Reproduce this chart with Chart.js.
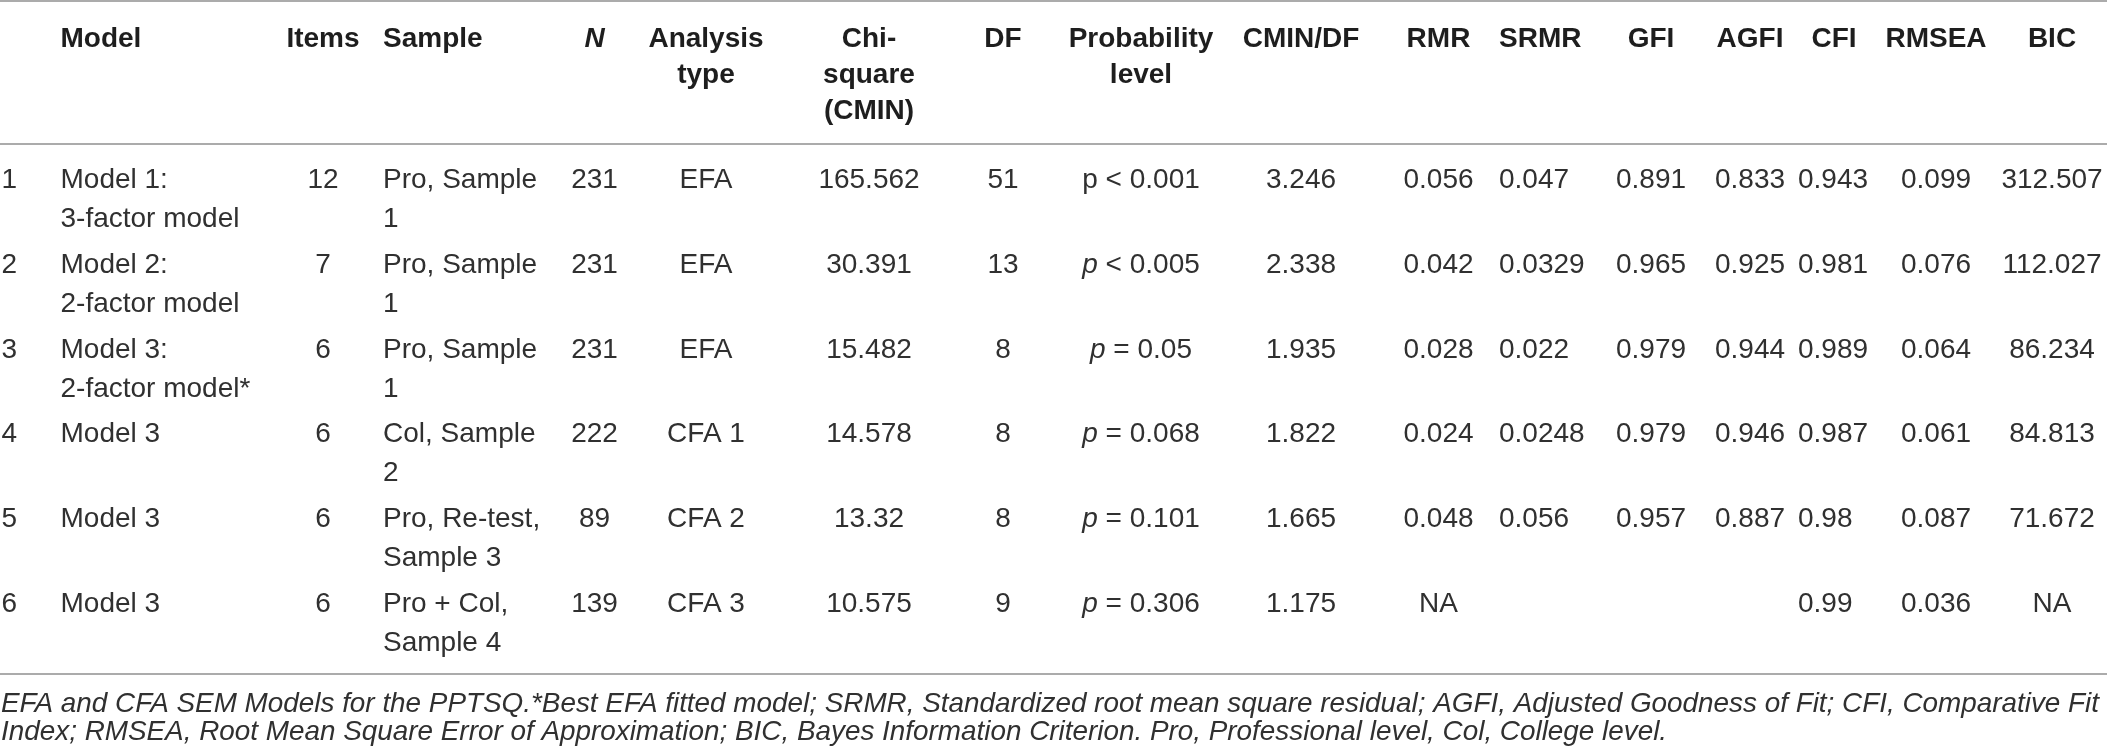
<!DOCTYPE html>
<html>
<head>
<meta charset="utf-8">
<script src="https://cdn.jsdelivr.net/npm/chart.js@4.4.1/dist/chart.umd.min.js"></script>
<style>
  html, body { margin: 0; padding: 0; background: #ffffff; }
  #wrap { width: 2107px; height: 755px; }
  canvas { display: block; }
</style>
</head>
<body>
<div id="wrap"><canvas id="tbl" width="2107" height="755"></canvas></div>
<script>
// ---------------- DATA ----------------
const headerLabels = [
  [''], ['Model'], ['Items'], ['Sample'], ['N'], ['Analysis', 'type'],
  ['Chi-', 'square', '(CMIN)'], ['DF'], ['Probability', 'level'], ['CMIN/DF'],
  ['RMR'], ['SRMR'], ['GFI'], ['AGFI'], ['CFI'], ['RMSEA'], ['BIC']
];
const headerItalic = [false, false, false, false, true, false, false, false, false, false, false, false, false, false, false, false, false];

const rowNumbers = ['1', '2', '3', '4', '5', '6'];
const models = [
  ['Model 1:', '3-factor model'],
  ['Model 2:', '2-factor model'],
  ['Model 3:', '2-factor model*'],
  ['Model 3'], ['Model 3'], ['Model 3']
];
const items = [12, 7, 6, 6, 6, 6];
const samples = [
  ['Pro, Sample', '1'],
  ['Pro, Sample', '1'],
  ['Pro, Sample', '1'],
  ['Col, Sample', '2'],
  ['Pro, Re-test,', 'Sample 3'],
  ['Pro + Col,', 'Sample 4']
];
const nValues = [231, 231, 231, 222, 89, 139];
const analysisTypes = ['EFA', 'EFA', 'EFA', 'CFA 1', 'CFA 2', 'CFA 3'];
const chiSquare = [165.562, 30.391, 15.482, 14.578, 13.32, 10.575];
const dfValues = [51, 13, 8, 8, 8, 9];
const probOperator = ['<', '<', '=', '=', '=', '='];
const probValue = [0.001, 0.005, 0.05, 0.068, 0.101, 0.306];
const probItalicP = [false, true, true, true, true, true];
const cminDf = [3.246, 2.338, 1.935, 1.822, 1.665, 1.175];
const rmr = [0.056, 0.042, 0.028, 0.024, 0.048, 'NA'];
const srmr = [0.047, 0.0329, 0.022, 0.0248, 0.056, null];
const gfi = [0.891, 0.965, 0.979, 0.979, 0.957, null];
const agfi = [0.833, 0.925, 0.944, 0.946, 0.887, null];
const cfi = [0.943, 0.981, 0.989, 0.987, 0.98, 0.99];
const rmsea = [0.099, 0.076, 0.064, 0.061, 0.087, 0.036];
const bic = [312.507, 112.027, 86.234, 84.813, 71.672, 'NA'];

const footnoteLines = [
  'EFA and CFA SEM Models for the PPTSQ.*Best EFA fitted model; SRMR, Standardized root mean square residual; AGFI, Adjusted Goodness of Fit; CFI, Comparative Fit',
  'Index; RMSEA, Root Mean Square Error of Approximation; BIC, Bayes Information Criterion. Pro, Professional level, Col, College level.'
];

// ---------------- LAYOUT / STYLE (not data) ----------------
const W = 2107, H = 755;
const FAMILY = '"Liberation Sans", Arial, Helvetica, sans-serif';
const layout = {
  topRule: 1, headerRule: 144, bottomRule: 674,
  headerBaseline: 47, headerStep: 36,
  firstRowBaseline: 188, rowStep: 84.8, lineStep: 39,
  footBaseline: 712, footStep: 28, footRight: 2100, footLeft: 1
};
const colLayout = [
  { x: 1.5,    align: 'left' },
  { x: 60.5,   align: 'left' },
  { x: 323,    align: 'center' },
  { x: 383,    align: 'left' },
  { x: 594.5,  align: 'center' },
  { x: 706,    align: 'center' },
  { x: 869,    align: 'center' },
  { x: 1003,   align: 'center' },
  { x: 1141,   align: 'center' },
  { x: 1301,   align: 'center' },
  { x: 1438.5, align: 'center' },
  { x: 1499,   align: 'left' },
  { x: 1651,   align: 'center' },
  { x: 1750,   align: 'center' },
  { x: 1798,   align: 'left', hx: 1834, halign: 'center' },
  { x: 1936,   align: 'center' },
  { x: 2052,   align: 'center' }
];
const style = {
  headerFont: 'bold 28px ' + FAMILY,
  headerItalicFont: 'italic bold 28px ' + FAMILY,
  bodyFont: '28px ' + FAMILY,
  bodyItalicFont: 'italic 28px ' + FAMILY,
  footSize: 26,
  headerColor: '#1e1e1e',
  bodyColor: '#303030',
  footColor: '#303030',
  ruleColor: '#ababab',
  ruleWidth: 2
};

// probability column as rich segments built from the data arrays
const probability = probValue.map((v, r) => [
  { t: 'p', italic: probItalicP[r] },
  { t: ' ' + probOperator[r] + ' ' + String(v), italic: false }
]);

const columnData = [rowNumbers, models, items, samples, nValues, analysisTypes, chiSquare,
  dfValues, probability, cminDf, rmr, srmr, gfi, agfi, cfi, rmsea, bic];

// one invisible scatter dataset per column; one point per table row
const datasets = columnData.map((col, c) => ({
  label: headerLabels[c].join(' '),
  data: col.map((v, r) => ({
    x: colLayout[c].x,
    y: layout.firstRowBaseline + r * layout.rowStep,
    col: c, row: r
  })),
  pointRadius: 0, pointHoverRadius: 0, showLine: false
}));

function cellSegments(c, r) {
  const v = columnData[c][r];
  if (v === null || v === undefined || v === '') return [];
  if (c === 8) return [v];                       // one rich line
  if (Array.isArray(v)) return v.map(s => [{ t: s, italic: false }]);
  return [[{ t: String(v), italic: false }]];
}

function drawRich(ctx, segs, x, y, align, normalFont, italicFont) {
  let total = 0;
  const widths = segs.map(s => {
    ctx.font = s.italic ? italicFont : normalFont;
    const w = ctx.measureText(s.t).width;
    total += w;
    return w;
  });
  let sx = align === 'center' ? x - total / 2 : (align === 'right' ? x - total : x);
  ctx.textAlign = 'left';
  segs.forEach((s, i) => {
    ctx.font = s.italic ? italicFont : normalFont;
    ctx.fillText(s.t, sx, y);
    sx += widths[i];
  });
}

const tablePlugin = {
  id: 'tablePlugin',
  beforeDraw(chart) {
    const ctx = chart.ctx;
    ctx.save();
    ctx.fillStyle = '#ffffff';
    ctx.fillRect(0, 0, chart.width, chart.height);
    ctx.restore();
  },
  afterDatasetsDraw(chart) {
    const ctx = chart.ctx;
    const xs = chart.scales.x, ys = chart.scales.y;
    ctx.save();
    ctx.textBaseline = 'alphabetic';

    // horizontal rules
    ctx.strokeStyle = style.ruleColor;
    ctx.lineWidth = style.ruleWidth;
    [layout.topRule, layout.headerRule, layout.bottomRule].forEach(v => {
      const py = ys.getPixelForValue(v);
      ctx.beginPath();
      ctx.moveTo(xs.getPixelForValue(0), py);
      ctx.lineTo(xs.getPixelForValue(W), py);
      ctx.stroke();
    });

    // header
    ctx.fillStyle = style.headerColor;
    headerLabels.forEach((lines, c) => {
      const cl = colLayout[c];
      const hx = xs.getPixelForValue(cl.hx !== undefined ? cl.hx : cl.x);
      const al = cl.halign || cl.align;
      lines.forEach((txt, k) => {
        const py = ys.getPixelForValue(layout.headerBaseline + k * layout.headerStep);
        ctx.font = headerItalic[c] ? style.headerItalicFont : style.headerFont;
        ctx.textAlign = al;
        ctx.fillText(txt, hx, py);
      });
    });

    // body cells, positioned by the chart's point elements
    ctx.fillStyle = style.bodyColor;
    const linePx = ys.getPixelForValue(layout.lineStep) - ys.getPixelForValue(0);
    chart.data.datasets.forEach((ds, di) => {
      const meta = chart.getDatasetMeta(di);
      meta.data.forEach((el, i) => {
        const pt = ds.data[i];
        const lines = cellSegments(pt.col, pt.row);
        lines.forEach((segs, k) => {
          drawRich(ctx, segs, el.x, el.y + linePx * k,
            colLayout[pt.col].align, style.bodyFont, style.bodyItalicFont);
        });
      });
    });

    // footnote (italic), size fitted so the first line spans the table width
    ctx.fillStyle = style.footColor;
    ctx.font = 'italic ' + style.footSize + 'px ' + FAMILY;
    const w0 = ctx.measureText(footnoteLines[0]).width;
    const fs = style.footSize * (layout.footRight - layout.footLeft) / w0;
    ctx.font = 'italic ' + fs.toFixed(2) + 'px ' + FAMILY;
    ctx.textAlign = 'left';
    footnoteLines.forEach((txt, k) => {
      ctx.fillText(txt, xs.getPixelForValue(layout.footLeft),
        ys.getPixelForValue(layout.footBaseline + k * layout.footStep));
    });
    ctx.restore();
  }
};

new Chart(document.getElementById('tbl').getContext('2d'), {
  type: 'scatter',
  data: { datasets },
  options: {
    responsive: false,
    animation: false,
    devicePixelRatio: 1,
    events: [],
    layout: { padding: 0 },
    plugins: { legend: { display: false }, tooltip: { enabled: false }, title: { display: false } },
    scales: {
      x: { type: 'linear', min: 0, max: W, display: false },
      y: { type: 'linear', min: 0, max: H, reverse: true, display: false }
    }
  },
  plugins: [tablePlugin]
});
</script>
</body>
</html>
